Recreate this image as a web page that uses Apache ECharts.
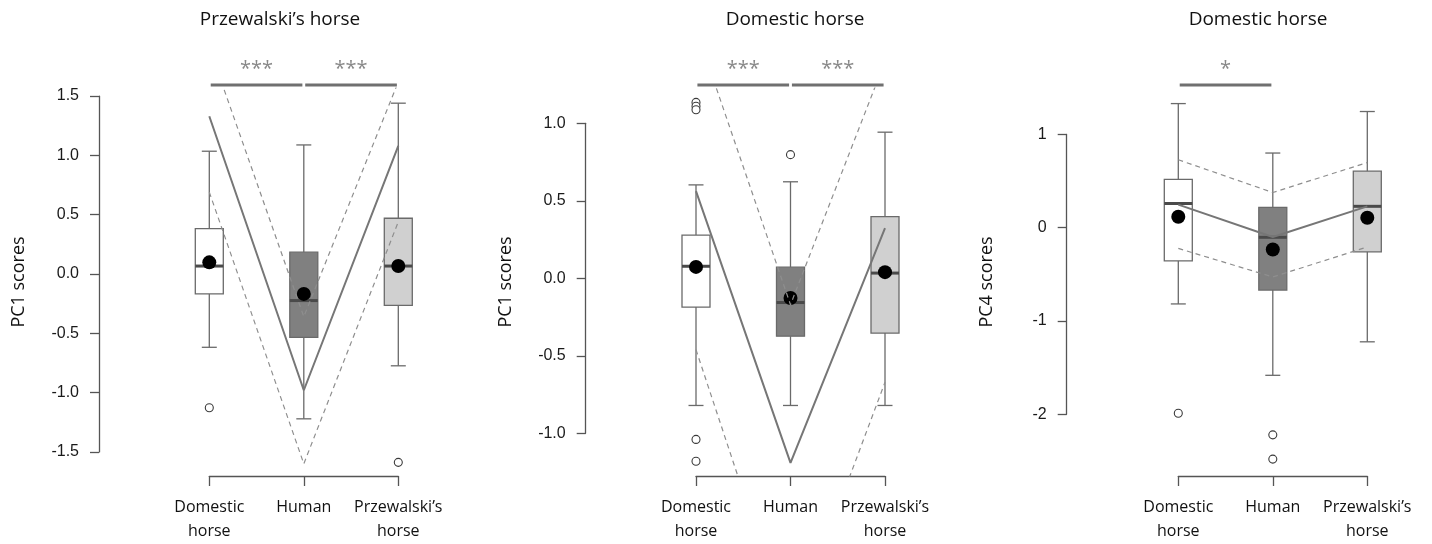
<!DOCTYPE html>
<html><head><meta charset="utf-8">
<script src="https://cdn.jsdelivr.net/npm/echarts@6/dist/echarts.min.js"></script>
<style>html,body{margin:0;padding:0;background:#fff}#c{width:1432px;height:544px}</style>
</head><body><div id="c"></div><script>
// ---------- data ----------
const categories = ["Domestic\nhorse", "Human", "Przewalski\u2019s\nhorse"];
const panelTitles = ["Przewalski\u2019s horse", "Domestic horse", "Domestic horse"];
const yAxisNames = ["PC1 scores", "PC1 scores", "PC4 scores"];

// boxes: [lower whisker, Q1, median, Q3, upper whisker] per category
const p1Box = [[-0.618, -0.168, 0.067, 0.382, 1.035], [-1.221, -0.535, -0.224, 0.184, 1.088], [-0.774, -0.265, 0.067, 0.470, 1.440]];
const p1Mean = [0.098, -0.168, 0.067];
const p1Outliers = [[0, -1.127], [2, -1.588]];
const p1Fit = [1.33, -0.98, 1.08];
const p1Upper = [1.91, -0.36, 1.62];
const p1Lower = [0.69, -1.60, 0.44];
const p1Sig = [[0, 1, "***"], [1, 2, "***"]];
const p1Ticks = [-1.5, -1.0, -0.5, 0.0, 0.5, 1.0, 1.5];
const p1TickLabels = ["-1.5", "-1.0", "-0.5", "0.0", "0.5", "1.0", "1.5"];

const p2Box = [[-0.82, -0.185, 0.078, 0.279, 0.603], [-0.82, -0.373, -0.156, 0.072, 0.623], [-0.82, -0.353, 0.034, 0.398, 0.943]];
const p2Mean = [0.074, -0.127, 0.040];
const p2Outliers = [[0, 1.135], [0, 1.110], [0, 1.088], [0, -1.039], [0, -1.180], [1, 0.798]];
const p2Fit = [0.563, -1.19, 0.324];
const p2Upper = [1.61, -0.17, 1.40];
const p2Lower = [-0.46, -2.30, -0.67];
const p2Sig = [[0, 1, "***"], [1, 2, "***"]];
const p2Ticks = [-1.0, -0.5, 0.0, 0.5, 1.0];
const p2TickLabels = ["-1.0", "-0.5", "0.0", "0.5", "1.0"];

const p3Box = [[-0.817, -0.355, 0.259, 0.518, 1.330], [-1.582, -0.669, -0.103, 0.218, 0.800], [-1.223, -0.259, 0.229, 0.606, 1.245]];
const p3Mean = [0.118, -0.233, 0.107];
const p3Outliers = [[0, -1.988], [1, -2.22], [1, -2.48]];
const p3Fit = [0.247, -0.10, 0.228];
const p3Upper = [0.728, 0.377, 0.698];
const p3Lower = [-0.222, -0.528, -0.207];
const p3Sig = [[0, 1, "*"]];
const p3Ticks = [-2, -1, 0, 1];
const p3TickLabels = ["-2", "-1", "0", "1"];

// ---------- layout (pixels / axis ranges) ----------
const plotTop = 88, plotBottom = 476, H = 544, catStep = 94.5, sigPx = 85;
const layout = [
  { axisX: 99,     cat0: 209.3,  yMin: -1.703, yMax: 1.568, titleX: 275 },
  { axisX: 585.7,  cat0: 696,    yMin: -1.275, yMax: 1.228, titleX: 790 },
  { axisX: 1066.7, cat0: 1178.3, yMin: -2.661, yMax: 1.497, titleX: 1253 }
];
const panels = [
  { box: p1Box, mean: p1Mean, out: p1Outliers, fit: p1Fit, up: p1Upper, lo: p1Lower, sig: p1Sig, ticks: p1Ticks, labels: p1TickLabels },
  { box: p2Box, mean: p2Mean, out: p2Outliers, fit: p2Fit, up: p2Upper, lo: p2Lower, sig: p2Sig, ticks: p2Ticks, labels: p2TickLabels },
  { box: p3Box, mean: p3Mean, out: p3Outliers, fit: p3Fit, up: p3Upper, lo: p3Lower, sig: p3Sig, ticks: p3Ticks, labels: p3TickLabels }
];
const boxFills = ["#ffffff", "#808080", "#d0d0d0"];
const axisColor = "#555";
const textFont = "Open Sans";

const grid = [], xAxis = [], yAxis = [], series = [], title = [];
const plotH = plotBottom - plotTop;

panels.forEach((p, k) => {
  const L = layout[k];
  const gi = grid.length;
  const pxPerUnit = plotH / (L.yMax - L.yMin);
  const rightX = L.cat0 + 2.5 * catStep;
  // main plotting grid
  grid.push({ left: L.axisX, top: plotTop, width: rightX - L.axisX, height: plotH });
  xAxis.push({ gridIndex: gi, type: "value", min: (L.axisX - L.cat0) / catStep, max: 2.5, show: false });
  yAxis.push({ gridIndex: gi, type: "value", min: L.yMin, max: L.yMax,
    axisLine: { show: false }, axisTick: { show: false }, axisLabel: { show: false }, splitLine: { show: false },
    name: yAxisNames[k], nameLocation: "middle", nameGap: 71,
    nameTextStyle: { fontFamily: textFont, fontSize: 18, color: "#111" } });
  // visible y axis (tick range only)
  const tMin = p.ticks[0], tMax = p.ticks[p.ticks.length - 1];
  grid.push({ left: L.axisX, width: 1, top: plotTop + (L.yMax - tMax) * pxPerUnit, height: (tMax - tMin) * pxPerUnit });
  xAxis.push({ gridIndex: gi + 1, type: "value", show: false });
  yAxis.push({ gridIndex: gi + 1, type: "value", min: tMin, max: tMax, interval: p.ticks[1] - p.ticks[0],
    axisLine: { show: true, lineStyle: { color: axisColor, width: 1.3 } },
    axisTick: { show: true, length: 9, lineStyle: { color: axisColor, width: 1.3 } },
    splitLine: { show: false },
    axisLabel: { margin: 20, fontFamily: "Liberation Sans", fontSize: 16, color: "#1a1a1a",
      formatter: v => { const i = p.ticks.findIndex(t => Math.abs(t - v) < 1e-9); return i >= 0 ? p.labels[i] : ""; } } });
  // visible x axis (from first to last category)
  grid.push({ left: L.cat0, width: 2 * catStep, top: plotTop, bottom: H - plotBottom });
  xAxis.push({ gridIndex: gi + 2, type: "category", data: categories, boundaryGap: false,
    axisLine: { show: true, lineStyle: { color: axisColor, width: 1.3 } },
    axisTick: { show: true, length: 10, lineStyle: { color: axisColor, width: 1.3 } },
    axisLabel: { interval: 0, margin: 19, fontFamily: textFont, fontSize: 16, lineHeight: 24, color: "#111" } });
  yAxis.push({ gridIndex: gi + 2, type: "value", show: false });

  title.push({ text: panelTitles[k], left: L.titleX, top: 5, textAlign: "center",
    textStyle: { fontFamily: textFont, fontSize: 19, fontWeight: "normal", color: "#111" } });

  // boxes
  series.push({
    type: "custom", xAxisIndex: gi, yAxisIndex: gi, silent: true,
    data: p.box.map((b, i) => [i, ...b]),
    encode: { x: 0, y: [1, 2, 3, 4, 5] },
    renderItem: (params, api) => {
      const x = api.value(0);
      const lo = api.coord([x, api.value(1)]), q1 = api.coord([x, api.value(2)]),
            md = api.coord([x, api.value(3)]), q3 = api.coord([x, api.value(4)]),
            hi = api.coord([x, api.value(5)]);
      const cx = lo[0], bw = 28, sw = 15;
      const ws = { stroke: "#6a6a6a", lineWidth: 1.3 };
      return { type: "group", children: [
        { type: "line", shape: { x1: cx, y1: hi[1], x2: cx, y2: q3[1] }, style: ws },
        { type: "line", shape: { x1: cx, y1: q1[1], x2: cx, y2: lo[1] }, style: ws },
        { type: "line", shape: { x1: cx - sw / 2, y1: hi[1], x2: cx + sw / 2, y2: hi[1] }, style: ws },
        { type: "line", shape: { x1: cx - sw / 2, y1: lo[1], x2: cx + sw / 2, y2: lo[1] }, style: ws },
        { type: "rect", shape: { x: cx - bw / 2, y: q3[1], width: bw, height: q1[1] - q3[1] },
          style: { fill: boxFills[x], stroke: "#6a6a6a", lineWidth: 1.3 } },
        { type: "line", shape: { x1: cx - bw / 2, y1: md[1], x2: cx + bw / 2, y2: md[1] },
          style: { stroke: "#4a4a4a", lineWidth: 3 } }
      ] };
    }
  });
  // fitted line and confidence bands
  const lineBase = { type: "line", xAxisIndex: gi, yAxisIndex: gi, symbol: "none", silent: true, clip: true };
  const dashStyle = { color: "#8e8e8e", width: 1.2, type: [5, 4] };
  series.push(Object.assign({}, lineBase, { data: p.up.map((v, i) => [i, v]), lineStyle: dashStyle }));
  series.push(Object.assign({}, lineBase, { data: p.lo.map((v, i) => [i, v]), lineStyle: dashStyle }));
  series.push(Object.assign({}, lineBase, { data: p.fit.map((v, i) => [i, v]), lineStyle: { color: "#767676", width: 2 } }));
  // outliers
  series.push({ type: "scatter", xAxisIndex: gi, yAxisIndex: gi, silent: true, clip: false,
    data: p.out, symbol: "circle", symbolSize: 8,
    itemStyle: { color: "#fff", borderColor: "#3a3a3a", borderWidth: 1.1, opacity: 1 } });
  // means
  series.push({ type: "scatter", xAxisIndex: gi, yAxisIndex: gi, silent: true, clip: false,
    data: p.mean.map((v, i) => [i, v]), symbol: "circle", symbolSize: 14, itemStyle: { color: "#000", opacity: 1 } });
  // significance bars and stars
  const sigY = L.yMax + (plotTop - sigPx) / pxPerUnit;
  p.sig.forEach(s => {
    series.push(Object.assign({}, lineBase, { clip: false,
      data: [[s[0] + 0.015, sigY], [s[1] - 0.015, sigY]], lineStyle: { color: "#707070", width: 3 } }));
    series.push({ type: "scatter", xAxisIndex: gi, yAxisIndex: gi, silent: true, clip: false,
      data: [[(s[0] + s[1]) / 2, sigY]], symbolSize: 1, itemStyle: { color: "rgba(0,0,0,0)" },
      label: { show: true, position: "top", distance: 5, formatter: s[2],
        fontFamily: textFont, fontSize: 20, color: "#6a6a6a" } });
  });
});

const chart = echarts.init(document.getElementById("c"), null, { renderer: "canvas" });
chart.setOption({ animation: false, backgroundColor: "#fff", title, grid, xAxis, yAxis, series });
</script></body></html>
